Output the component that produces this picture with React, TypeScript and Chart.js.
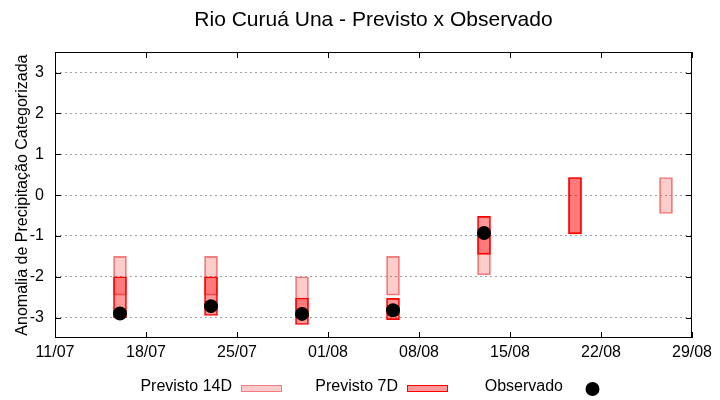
import { useEffect, useRef } from 'react';
import { Chart, registerables } from 'chart.js';

Chart.register(...registerables);

const chartTitle = 'Rio Curuá Una - Previsto x Observado';
const yAxisTitle = 'Anomalia de Precipitação Categorizada';
const xTickLabels = ['11/07', '18/07', '25/07', '01/08', '08/08', '15/08', '22/08', '29/08'];
const yTickValues = [-3, -2, -1, 0, 1, 2, 3];
const yMin = -3.5;
const yMax = 3.5;

const forecastDates = ['16/07', '23/07', '30/07', '06/08', '13/08', '20/08', '27/08'];
const previsto14DLow = [-2.45, -2.45, -3.0, -2.45, -1.95, -0.95, -0.45];
const previsto14DHigh = [-1.5, -1.5, -2.0, -1.5, -1.0, 0.43, 0.43];
const previsto7DLow: (number | null)[] = [-3.0, -2.95, -3.17, -3.05, -1.45, -0.95, null];
const previsto7DHigh: (number | null)[] = [-2.0, -2.0, -2.52, -2.53, -0.52, 0.43, null];
const observado: (number | null)[] = [-2.9, -2.72, -2.91, -2.82, -0.93, null, null];

const legendLabels = ['Previsto 14D', 'Previsto 7D', 'Observado'];

const FONT = '"Liberation Sans", Arial, sans-serif';

function dayOf(s: string): number {
  const [d, m] = s.split('/').map(Number);
  return Date.UTC(2000, m - 1, d) / 86400000;
}
const origin = dayOf(xTickLabels[0]);
const xPos = (s: string) => dayOf(s) - origin;

const color14Fill = 'rgba(255,0,0,0.2)';
const color14Border = '#f08080';
const color7Fill = 'rgba(255,0,0,0.4)';
const color7Border = '#ff0000';

const framePlugin = {
  id: 'gnuFrame',
  afterDraw(chart: any) {
    const { ctx, chartArea: a, scales } = chart;
    const L = Math.round(a.left);
    const R = Math.round(a.right) - 1;
    const T = Math.round(a.top);
    const B = Math.round(a.bottom) - 1;
    const tl = 6;
    ctx.save();
    ctx.fillStyle = '#000';
    ctx.fillRect(L, T, R - L + 1, 1);
    ctx.fillRect(L, B, R - L + 1, 1);
    ctx.fillRect(L, T, 1, B - T + 1);
    ctx.fillRect(R, T, 1, B - T + 1);
    for (const v of yTickValues) {
      const y = Math.round(scales.y.getPixelForValue(v));
      ctx.fillRect(L, y, tl, 1);
      ctx.fillRect(R - tl + 1, y, tl, 1);
    }
    for (const l of xTickLabels) {
      const x = Math.round(scales.x.getPixelForValue(xPos(l)));
      ctx.fillRect(x, B - tl + 1, 1, tl);
      ctx.fillRect(x, T, 1, tl);
    }

    // legend (gnuplot style: text then sample)
    ctx.font = `16px ${FONT}`;
    ctx.textAlign = 'right';
    ctx.textBaseline = 'middle';
    const textY = 387;
    const rights = [232, 398, 563];
    legendLabels.forEach((lab, i) => {
      ctx.fillStyle = '#000';
      ctx.fillText(lab, rights[i], textY);
      const sx = rights[i] + 9;
      const sw = 41;
      if (i < 2) {
        ctx.fillStyle = i === 0 ? color14Fill : color7Fill;
        ctx.fillRect(sx, 385, sw, 7);
        ctx.strokeStyle = i === 0 ? color14Border : color7Border;
        ctx.lineWidth = 1;
        ctx.strokeRect(sx + 0.5, 385.5, sw - 1, 6);
      } else {
        ctx.fillStyle = '#000';
        ctx.beginPath();
        ctx.arc(sx + sw / 2, 389, 7, 0, Math.PI * 2);
        ctx.fill();
      }
    });
    ctx.restore();
  },
};

export default function App() {
  const ref = useRef<HTMLCanvasElement>(null);
  useEffect(() => {
    if (!ref.current) return;
    const data14 = forecastDates.map((d, i) => ({ x: xPos(d), y: [previsto14DLow[i], previsto14DHigh[i]] }));
    const data7 = forecastDates
      .map((d, i) => (previsto7DLow[i] == null ? null : { x: xPos(d), y: [previsto7DLow[i], previsto7DHigh[i]] }))
      .filter(Boolean);
    const dataObs = forecastDates
      .map((d, i) => (observado[i] == null ? null : { x: xPos(d), y: observado[i] }))
      .filter(Boolean);

    const chart = new Chart(ref.current, {
      type: 'bar',
      data: {
        datasets: [
          {
            type: 'line',
            label: legendLabels[2],
            data: dataObs as any,
            showLine: false,
            pointRadius: 7,
            pointHoverRadius: 7,
            pointBackgroundColor: '#000',
            pointBorderColor: '#000',
            pointBorderWidth: 0,
            order: 0,
          } as any,
          {
            type: 'bar',
            label: legendLabels[1],
            data: data7 as any,
            backgroundColor: color7Fill,
            borderColor: color7Border,
            borderWidth: 1,
            borderSkipped: false,
            barThickness: 13,
            grouped: false,
            order: 1,
          } as any,
          {
            type: 'bar',
            label: legendLabels[0],
            data: data14 as any,
            backgroundColor: color14Fill,
            borderColor: color14Border,
            borderWidth: 1,
            borderSkipped: false,
            barThickness: 13,
            grouped: false,
            order: 2,
          } as any,
        ],
      },
      options: {
        responsive: false,
        animation: false,
        layout: { padding: { left: 0, right: 28, top: 0, bottom: 0 } },
        plugins: {
          legend: { display: false },
          tooltip: { enabled: false },
          title: {
            display: true,
            text: chartTitle,
            fullSize: false,
            color: '#000',
            font: { family: FONT, size: 21, weight: 'normal' },
            padding: { top: 8, bottom: 19 },
          },
        },
        scales: {
          x: {
            type: 'linear',
            min: 0,
            max: xPos(xTickLabels[xTickLabels.length - 1]),
            offset: false,
            grid: { display: false, drawTicks: false },
            border: { display: false },
            afterBuildTicks: (scale: any) => {
              scale.ticks = xTickLabels.map((l) => ({ value: xPos(l) }));
            },
            afterFit: (scale: any) => {
              scale.height = 62;
            },
            ticks: {
              color: '#000',
              font: { family: FONT, size: 16 },
              padding: 5,
              maxRotation: 0,
              autoSkip: false,
              callback: (_v: any, i: number) => xTickLabels[i],
            },
          },
          y: {
            type: 'linear',
            min: yMin,
            max: yMax,
            grid: { display: true, color: '#a0a0a0', lineWidth: 1, drawTicks: false },
            border: { display: false, dash: [2, 3] },
            afterBuildTicks: (scale: any) => {
              scale.ticks = yTickValues.map((v) => ({ value: v }));
            },
            afterFit: (scale: any) => {
              scale.width = 55;
            },
            ticks: {
              color: '#000',
              font: { family: FONT, size: 16 },
              padding: 11,
              callback: (v: any) => String(v),
            },
            title: {
              display: true,
              text: yAxisTitle,
              color: '#000',
              font: { family: FONT, size: 16 },
              padding: { top: 13, bottom: 0 },
            },
          },
        },
      } as any,
      plugins: [framePlugin],
    });
    return () => chart.destroy();
  }, []);

  return (
    <div style={{ position: 'absolute', left: 0, top: 0, width: 720, height: 400, background: '#fff' }}>
      <canvas ref={ref} width={720} height={400} style={{ display: 'block' }} />
    </div>
  );
}
